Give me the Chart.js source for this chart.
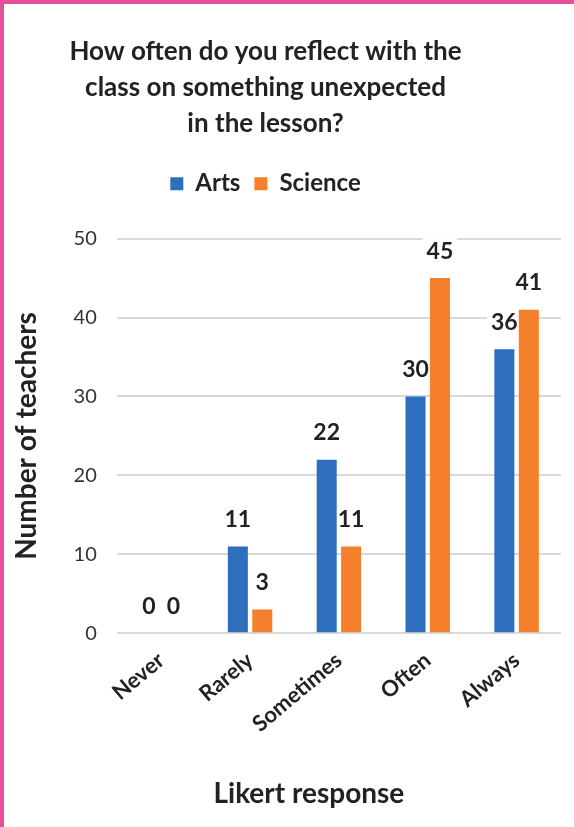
<!DOCTYPE html>
<html>
<head>
<meta charset="utf-8">
<script src="https://cdn.jsdelivr.net/npm/chart.js@4.4.0/dist/chart.umd.min.js"></script>
<style>
  html, body { margin: 0; padding: 0; background: #fff; }
  .frame {
    width: 570px; height: 823px;
    border-top: 4px solid #e64f9b;
    border-left: 4px solid #e64f9b;
    background: #fff;
  }
</style>
</head>
<body>
<div class="frame"><canvas id="chart" width="570" height="823"></canvas></div>
<script>
const categories = ['Never', 'Rarely', 'Sometimes', 'Often', 'Always'];
const arts = [0, 11, 22, 30, 36];
const science = [0, 3, 11, 45, 41];
const yTicks = [0, 10, 20, 30, 40, 50];

const FONT = 'Lato, "Open Sans", sans-serif';
const LABEL_FONT = 'bold 23px ' + FONT;
const LABEL_GAP = 27;

function eachLabel(chart, fn) {
  chart.data.datasets.forEach((ds, i) => {
    chart.getDatasetMeta(i).data.forEach((bar, j) => fn(String(ds.data[j]), bar.x, bar.y - LABEL_GAP));
  });
}

// values above each bar; white patch goes under the bars so only the grid breaks
const barLabels = {
  id: 'barLabels',
  beforeDatasetsDraw(chart) {
    const ctx = chart.ctx;
    ctx.save();
    ctx.font = LABEL_FONT;
    ctx.fillStyle = '#fff';
    eachLabel(chart, (txt, x, y) => {
      const w = ctx.measureText(txt).width + 8;
      ctx.fillRect(x - w / 2, y - 13, w, 26);
    });
    ctx.restore();
  },
  afterDatasetsDraw(chart) {
    const ctx = chart.ctx;
    ctx.save();
    ctx.font = LABEL_FONT;
    ctx.textAlign = 'center';
    ctx.textBaseline = 'middle';
    ctx.fillStyle = '#222';
    eachLabel(chart, (txt, x, y) => ctx.fillText(txt, x, y));
    ctx.restore();
  }
};

// extra room between legend and plot; title, legend and x title sit left of centre
const headerTweak = {
  id: 'headerTweak',
  beforeInit(chart) {
    const fit = chart.legend.fit;
    chart.legend.fit = function () {
      fit.call(this);
      this.height += 33;
    };
  },
  afterLayout(chart) {
    [chart.titleBlock, chart.legend].forEach(box => {
      box.left -= 20;
      box.right -= 20;
    });
    const xs = chart.scales.x;
    if (!xs._shifted) {
      const drawTitle = xs.drawTitle;
      xs.drawTitle = function () {
        this.ctx.save();
        this.ctx.translate(-30, 0);
        drawTitle.call(this);
        this.ctx.restore();
      };
      xs._shifted = true;
    }
  }
};

new Chart(document.getElementById('chart'), {
  type: 'bar',
  data: {
    labels: categories,
    datasets: [
      { label: 'Arts', data: arts, backgroundColor: '#2d6fbe', categoryPercentage: 0.55, barPercentage: 0.82 },
      { label: 'Science', data: science, backgroundColor: '#f57f2a', categoryPercentage: 0.55, barPercentage: 0.82 }
    ]
  },
  options: {
    responsive: false,
    animation: false,
    layout: { padding: { left: 6, right: 13, top: 30, bottom: 16 } },
    plugins: {
      title: {
        display: true,
        text: ['How often do you reflect with the', 'class on something unexpected', 'in the lesson?'],
        color: '#222',
        font: { family: FONT, size: 26, weight: 'bold', lineHeight: 1.38 },
        padding: { top: 0, bottom: 16 }
      },
      legend: {
        labels: {
          color: '#222',
          font: { family: FONT, size: 24, weight: 'bold' },
          boxWidth: 13, boxHeight: 13, padding: 14
        }
      },
      tooltip: { enabled: false }
    },
    scales: {
      x: {
        grid: { display: false },
        border: { display: false },
        ticks: {
          color: '#222',
          font: { family: FONT, size: 22, weight: 'bold' },
          maxRotation: 40, minRotation: 40, padding: 6
        },
        title: {
          display: true, text: 'Likert response', color: '#222',
          font: { family: FONT, size: 28, weight: 'bold' },
          padding: { top: 34, bottom: 0 }
        }
      },
      y: {
        min: 0, max: 50,
        afterBuildTicks: axis => { axis.ticks = yTicks.map(v => ({ value: v })); },
        grid: { color: '#d9d9d9', lineWidth: 2, drawTicks: false },
        border: { display: false },
        ticks: {
          color: '#333',
          font: { family: FONT, size: 20 },
          padding: 20
        },
        title: {
          display: true, text: 'Number of teachers', color: '#222',
          font: { family: FONT, size: 28, weight: 'bold' },
          padding: { top: 0, bottom: 10 }
        }
      }
    }
  },
  plugins: [barLabels, headerTweak]
});
</script>
</body>
</html>
